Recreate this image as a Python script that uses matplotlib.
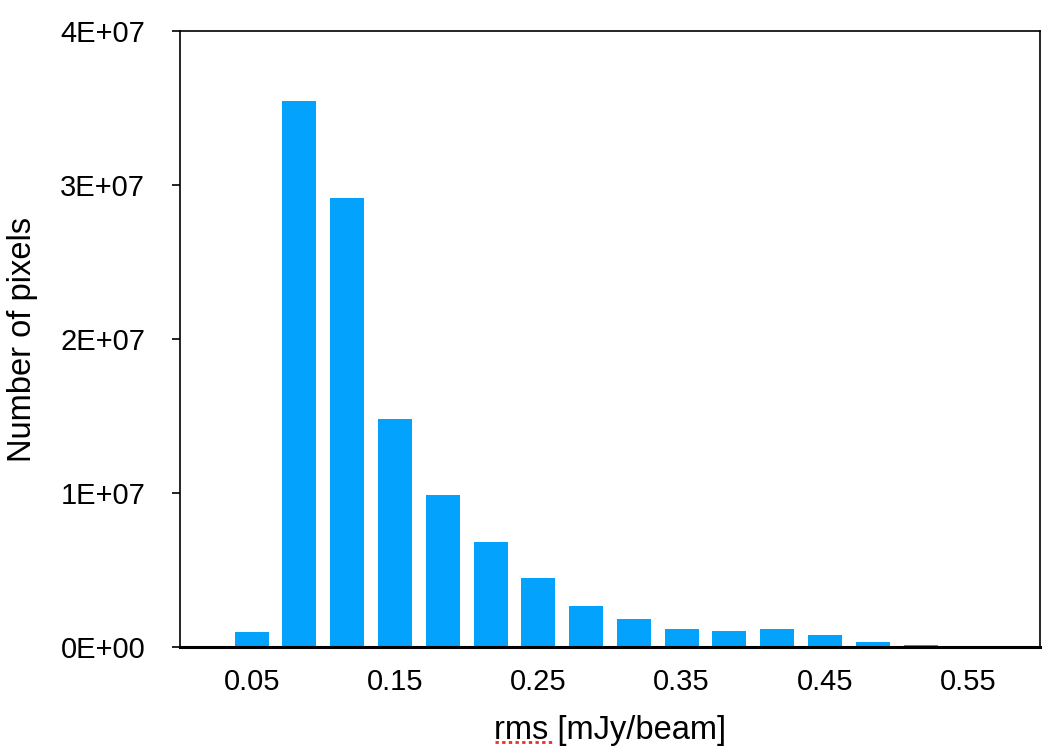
import matplotlib
matplotlib.use("Agg")
import matplotlib.pyplot as plt
from matplotlib.lines import Line2D

# rms bins (one empty slot on each side) and pixel counts
bin_labels = ["", "0.05", "", "", "0.15", "", "", "0.25", "", "", "0.35", "", "", "0.45", "", "", "0.55", ""]
counts = [0, 1.0e6, 3.545e7, 2.915e7, 1.48e7, 0.99e7, 6.8e6, 4.5e6, 2.66e6, 1.82e6,
          1.17e6, 1.04e6, 1.17e6, 0.78e6, 0.33e6, 0.13e6, 0.05e6, 0]
y_ticks = [0, 1e7, 2e7, 3e7, 4e7]

plt.rcParams["font.family"] = ["Liberation Sans", "DejaVu Sans"]

fig = plt.figure(figsize=(10.56, 7.54), dpi=100)
ax = fig.add_axes([180 / 1056, 1 - 647 / 754, 860 / 1056, 616 / 754])

pos = list(range(len(counts)))
ax.bar(pos, counts, width=0.71, color="#03a2fc", zorder=2)

ax.set_xlim(-0.5, len(counts) - 0.5)
ax.set_ylim(0, 4e7)
ax.set_xticks([i for i, l in enumerate(bin_labels) if l])
ax.set_xticklabels([l for l in bin_labels if l])
ax.set_yticks(y_ticks)
ax.set_yticklabels([f"{v:.0E}" for v in y_ticks])

ax.tick_params(axis="x", length=0, pad=15, labelsize=21)
ax.tick_params(axis="y", length=6, width=1.2, pad=19, labelsize=21, direction="out")

for s in ["left", "right", "top"]:
    ax.spines[s].set_linewidth(1.2)
ax.spines["bottom"].set_linewidth(2.2)
ax.spines["bottom"].set_zorder(3)

ax.set_xlabel("rms [mJy/beam]", fontsize=23.5, labelpad=14)
ax.set_ylabel("Number of pixels", fontsize=23.5, labelpad=16)

# spell-check underline under "rms"
fig.canvas.draw()
bb = ax.xaxis.label.get_window_extent()
x0 = (bb.x0 + 1) / 1056
x1 = (bb.x0 + 0.25 * bb.width) / 1056
fig.add_artist(Line2D([x0, x1], [1 - 742 / 754, 1 - 742 / 754],
                      color="#e8302a", linestyle=(0, (1.2, 1.2)), linewidth=2))

fig.savefig("out.png", dpi=100)
